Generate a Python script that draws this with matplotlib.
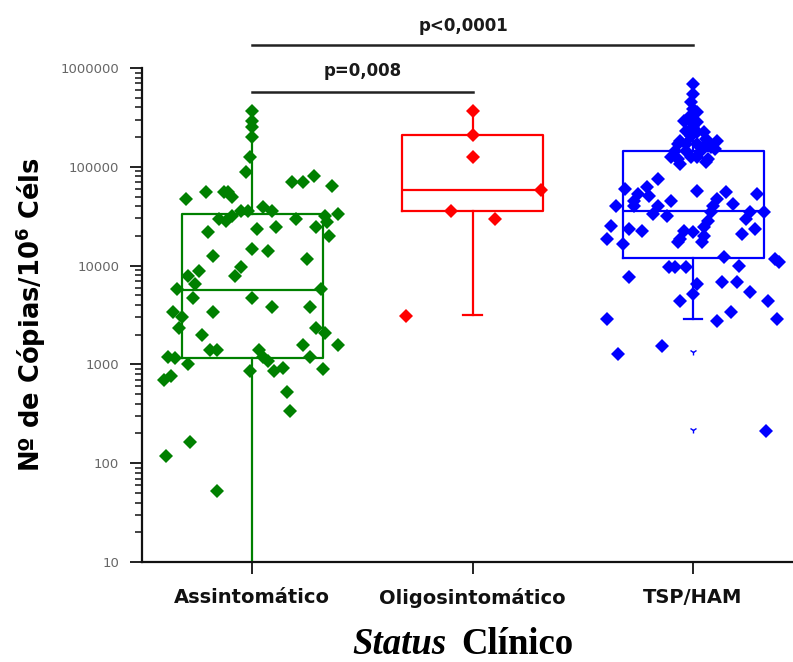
import matplotlib
matplotlib.use("Agg")
import matplotlib.pyplot as plt
from matplotlib.ticker import LogLocator, FixedFormatter, NullFormatter, FixedLocator
import numpy as np

plt.rcParams['mathtext.fontset'] = 'custom'
plt.rcParams['mathtext.bf'] = 'DejaVu Sans:bold'
plt.rcParams['mathtext.rm'] = 'DejaVu Sans:bold'

# ---------------- data ----------------
categories = ["Assintomático", "Oligosintomático", "TSP/HAM"]
colors = ["#008000", "#ff0000", "#0000ff"]

asym_values = [366000, 290000, 252000, 200000, 125000, 88000, 70000, 70000, 80000, 63500,
               47000, 55000, 55000, 56000, 50000, 29500, 28000, 31500, 35400, 35400,
               38900, 35400, 29500, 31500, 33000, 27400, 24400, 19800, 21700, 23300,
               24400, 12400, 14600, 13900, 11600, 9600, 7770, 8730, 7770, 6450,
               5740, 4750, 5740, 4750, 3850, 3850, 3430, 3430, 3050, 2360,
               2360, 2100, 1590, 2000, 1410, 1410, 1590, 1410, 1200, 1070,
               1200, 1200, 1170, 1000, 850, 850, 930, 890, 700, 760,
               530, 340, 162, 119, 52]
asym_jitter = [0.00, 0.00, 0.00, 0.00, -0.01, -0.03, 0.18, 0.23, 0.28, 0.36,
               -0.30, -0.21, -0.13, -0.11, -0.09, -0.15, -0.12, -0.09, -0.05, -0.02,
               0.05, 0.09, 0.20, 0.33, 0.39, 0.34, 0.29, 0.35, -0.20, 0.02,
               0.11, -0.18, 0.00, 0.07, 0.25, -0.05, -0.08, -0.24, -0.29, -0.26,
               -0.34, -0.27, 0.31, 0.00, 0.09, 0.26, -0.18, -0.36, -0.32, -0.33,
               0.29, 0.33, 0.39, -0.23, -0.19, -0.16, 0.23, 0.03, 0.05, 0.07,
               0.26, -0.38, -0.35, -0.29, -0.01, 0.10, 0.14, 0.32, -0.40, -0.37,
               0.16, 0.17, -0.28, -0.39, -0.16]

oligo_values = [366000, 209000, 125000, 58000, 35500, 29500, 3100]
oligo_jitter = [0.00, 0.00, 0.00, 0.31, -0.10, 0.10, -0.30]

tsp_values = [689000, 545000, 452000, 384000, 358000, 318000, 290000, 283000, 283000, 252000,
              230000, 224000, 224000, 204000, 182000, 190000, 182000, 169000, 169000, 169000,
              162000, 158000, 151000, 144000, 144000, 141000, 125000, 119000, 125000, 125000,
              119000, 106000, 111000,
              74800, 62100, 59300, 52700, 50300, 44800, 44800, 56600, 55000, 52700,
              46900, 41800, 39800, 39800, 39800, 39800, 33100, 31600, 34700, 34700,
              34700, 28100, 29400, 25000, 23300, 22200, 24400, 23300, 22200, 21700,
              19800, 18400, 20700, 18400, 16400, 17200, 17200,
              12100, 11600, 10800, 9600, 9600, 9600, 9800, 7590, 6450, 6760,
              6760, 5350, 5100, 4340, 4340, 3430, 2720, 2850, 2850, 1520,
              1260, 213]
tsp_jitter = [0.00, 0.00, -0.01, 0.00, 0.02, -0.02, -0.04, -0.01, 0.02, 0.00,
              -0.03, 0.02, 0.05, -0.01, -0.06, 0.06, 0.11, -0.07, -0.03, 0.02,
              0.05, 0.08, 0.10, -0.08, -0.03, 0.03, -0.10, -0.07, -0.01, 0.02,
              0.07, -0.06, 0.06,
              -0.16, -0.21, -0.31, -0.25, -0.20, -0.27, -0.10, 0.02, 0.15, 0.29,
              0.11, 0.18, -0.35, -0.27, -0.16, 0.09, -0.18, -0.12, 0.08, 0.26,
              0.32, 0.07, 0.24, -0.37, -0.29, -0.23, 0.05, 0.28, -0.04, 0.00,
              0.05, -0.39, 0.22, -0.06, -0.32, 0.04, -0.07,
              0.14, 0.37, 0.39, -0.11, -0.08, -0.03, 0.21, -0.29, 0.02, 0.13,
              0.20, 0.26, 0.00, -0.06, 0.34, 0.17, 0.11, -0.39, 0.38, -0.14,
              -0.34, 0.33]

# box statistics
box_med = [5600, 58000, 35300]
box_q1 = [1150, 35500, 11800]
box_q3 = [33000, 209000, 144000]
box_lo = [1, 3130, 2850]
box_hi = [366000, 366000, 689000]

tsp_extra_marks = [1320, 218]

yticks = [10, 100, 1000, 10000, 100000, 1000000]
ytick_labels = ["10", "100", "1000", "10000", "100000", "1000000"]

p_labels = ["p=0,008", "p<0,0001"]

# ---------------- figure ----------------
W, H = 793, 662
fig = plt.figure(figsize=(W / 100, H / 100), dpi=100)
ax = fig.add_axes([142 / W, 1 - 562 / H, (W - 142) / W, (562 - 68) / H])

positions = [1, 2, 3]
for i in range(3):
    c = colors[i]
    st = dict(med=box_med[i], q1=box_q1[i], q3=box_q3[i],
              whislo=box_lo[i], whishi=box_hi[i], fliers=[])
    res = ax.bxp([st], positions=[positions[i]], widths=0.64, capwidths=0.085,
                 showfliers=False, patch_artist=False,
                 boxprops=dict(color=c, lw=1.6), medianprops=dict(color=c, lw=1.6),
                 whiskerprops=dict(color=c, lw=1.6), capprops=dict(color=c, lw=1.6),
                 zorder=2)
    # only the lower cap is visible in the original
    res['caps'][1].set_visible(False)

groups = [(asym_values, asym_jitter), (oligo_values, oligo_jitter), (tsp_values, tsp_jitter)]
for i, (vals, jit) in enumerate(groups):
    xs = positions[i] + np.array(jit)
    ax.plot(xs, vals, linestyle='none', marker='D', ms=7.3, color=colors[i],
            markeredgewidth=0, zorder=3, clip_on=False)

ax.plot([3] * len(tsp_extra_marks), tsp_extra_marks, linestyle='none', marker='1',
        ms=5, color=colors[2], mew=1.0, zorder=3)

ax.set_yscale('log')
ax.set_ylim(10, 1000000)
ax.set_xlim(0.5, 1 + (793 - 252) / 220.5)

ax.yaxis.set_major_locator(FixedLocator(yticks))
ax.yaxis.set_major_formatter(FixedFormatter(ytick_labels))
ax.yaxis.set_minor_locator(LogLocator(base=10, subs=np.arange(2, 10)))
ax.yaxis.set_minor_formatter(NullFormatter())

ax.set_xticks(positions)
ax.set_xticklabels(categories, fontfamily='DejaVu Sans', fontweight='bold',
                   fontsize=14, color='#151525')

for s in ['top', 'right']:
    ax.spines[s].set_visible(False)
for s in ['left', 'bottom']:
    ax.spines[s].set_linewidth(1.6)
    ax.spines[s].set_color('#111111')

ax.tick_params(axis='y', which='major', length=8.5, width=1.3, colors='#111111',
               labelsize=9.5, labelcolor='#666666', pad=8)
ax.tick_params(axis='y', which='minor', length=5, width=1.1, colors='#111111')
ax.tick_params(axis='x', which='major', length=8.5, width=1.3, colors='#111111', pad=10)
for lab in ax.get_yticklabels():
    lab.set_fontfamily('DejaVu Sans')

ax.set_ylabel("Nº de Cópias/10$^{\\mathbf{6}}$ Céls", fontfamily='DejaVu Sans',
              fontweight='bold', fontsize=18.5, color='black')
ax.yaxis.set_label_coords((48 - 142) / (W - 142), 0.5)

# x label: "Status" bold italic + "Clínico" bold (serif)
fig.text(446 / W, 1 - 645 / H, "Status", fontfamily='Liberation Serif', fontstyle='italic',
         fontweight='bold', fontsize=26.5, ha='right', va='center')
fig.text(461 / W, 1 - 645 / H, "Clínico", fontfamily='Liberation Serif',
         fontweight='bold', fontsize=26.5, ha='left', va='center')

# significance brackets
ax.plot([1, 2], [571000, 571000], color='#222222', lw=1.8, clip_on=False)
ax.text(1.503, 933000, p_labels[0], ha='center', va='center', fontfamily='DejaVu Sans',
        fontweight='bold', fontsize=12, color='#1a1a1a')
ax.plot([1, 3], [1.71e6, 1.71e6], color='#222222', lw=1.8, clip_on=False)
ax.text(1.957, 2.67e6, p_labels[1], ha='center', va='center', fontfamily='DejaVu Sans',
        fontweight='bold', fontsize=12, color='#1a1a1a', clip_on=False)

fig.savefig("out.png", dpi=100)
